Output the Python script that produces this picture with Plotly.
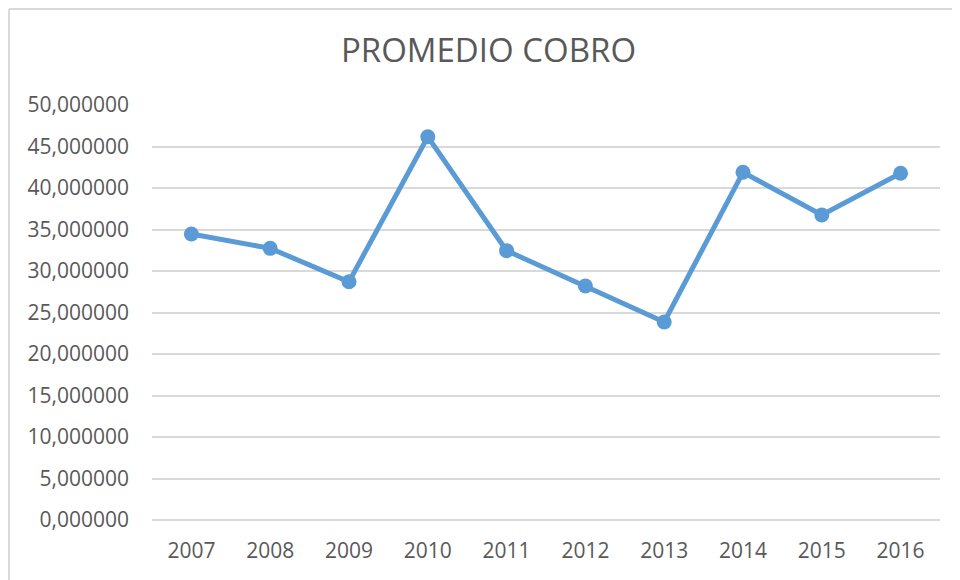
import plotly.graph_objects as go

years = ["2007", "2008", "2009", "2010", "2011", "2012", "2013", "2014", "2015", "2016"]
promedio_cobro = [34.46, 32.73, 28.71, 46.18, 32.45, 28.19, 23.86, 41.89, 36.75, 41.77]
y_ticks = [0, 5, 10, 15, 20, 25, 30, 35, 40, 45, 50]
y_tick_labels = ["0,000000", "5,000000", "10,000000", "15,000000", "20,000000",
                 "25,000000", "30,000000", "35,000000", "40,000000", "45,000000", "50,000000"]
title_text = "PROMEDIO COBRO"

FONT = "Open Sans, Noto Sans, sans-serif"
TXT = "#595959"
GRID = "#d9d9d9"

# the page body adds an 8px offset; positions below are screen pixels minus 8
OFF = 8
FW, FH = 960, 580

fig = go.Figure()
fig.add_trace(go.Scatter(
    x=years, y=promedio_cobro, mode="lines+markers",
    line=dict(color="#5b9bd5", width=5),
    marker=dict(color="#5b9bd5", size=15),
    showlegend=False, hoverinfo="x+y",
))

# plot area in screen pixels: x 152..940, y 105..520
L, R, T, B = 152 - OFF, 940 - OFF, 105 - OFF, 520 - OFF
W, H = R - L, B - T
def px(x):
    return (x - OFF - L) / W
def py(y):
    return (B - (y - OFF)) / H

fig.update_layout(
    width=FW, height=FH,
    margin=dict(l=L, r=FW - R, t=T, b=FH - B, pad=0),
    paper_bgcolor="white", plot_bgcolor="white",
    font=dict(family=FONT, color=TXT, size=21),
    title=dict(text=title_text, font=dict(family=FONT, size=33, color=TXT),
               x=(488.5 - OFF) / FW, xanchor="center", xref="container",
               y=1 - (50 - OFF) / FH, yanchor="middle", yref="container"),
    xaxis=dict(type="category", range=[-0.5, 9.5], showgrid=False, zeroline=False,
               showline=False, ticks="", ticklabelstandoff=16,
               tickfont=dict(family=FONT, size=21, color=TXT)),
    yaxis=dict(range=[0, 50], tickvals=y_ticks, ticktext=y_tick_labels,
               showgrid=True, gridcolor=GRID, gridwidth=1.5,
               zeroline=True, zerolinecolor=GRID, zerolinewidth=1.5,
               showline=False, ticks="", ticklabelstandoff=22,
               tickfont=dict(family=FONT, size=21, color=TXT)),
    shapes=[
        dict(type="line", xref="paper", yref="paper",
             x0=px(9), x1=px(9), y0=py(700), y1=py(9),
             line=dict(color=GRID, width=2)),
        dict(type="line", xref="paper", yref="paper",
             x0=px(9), x1=px(1100), y0=py(9), y1=py(9),
             line=dict(color=GRID, width=2)),
    ],
)

fig.write_html("out.html")
